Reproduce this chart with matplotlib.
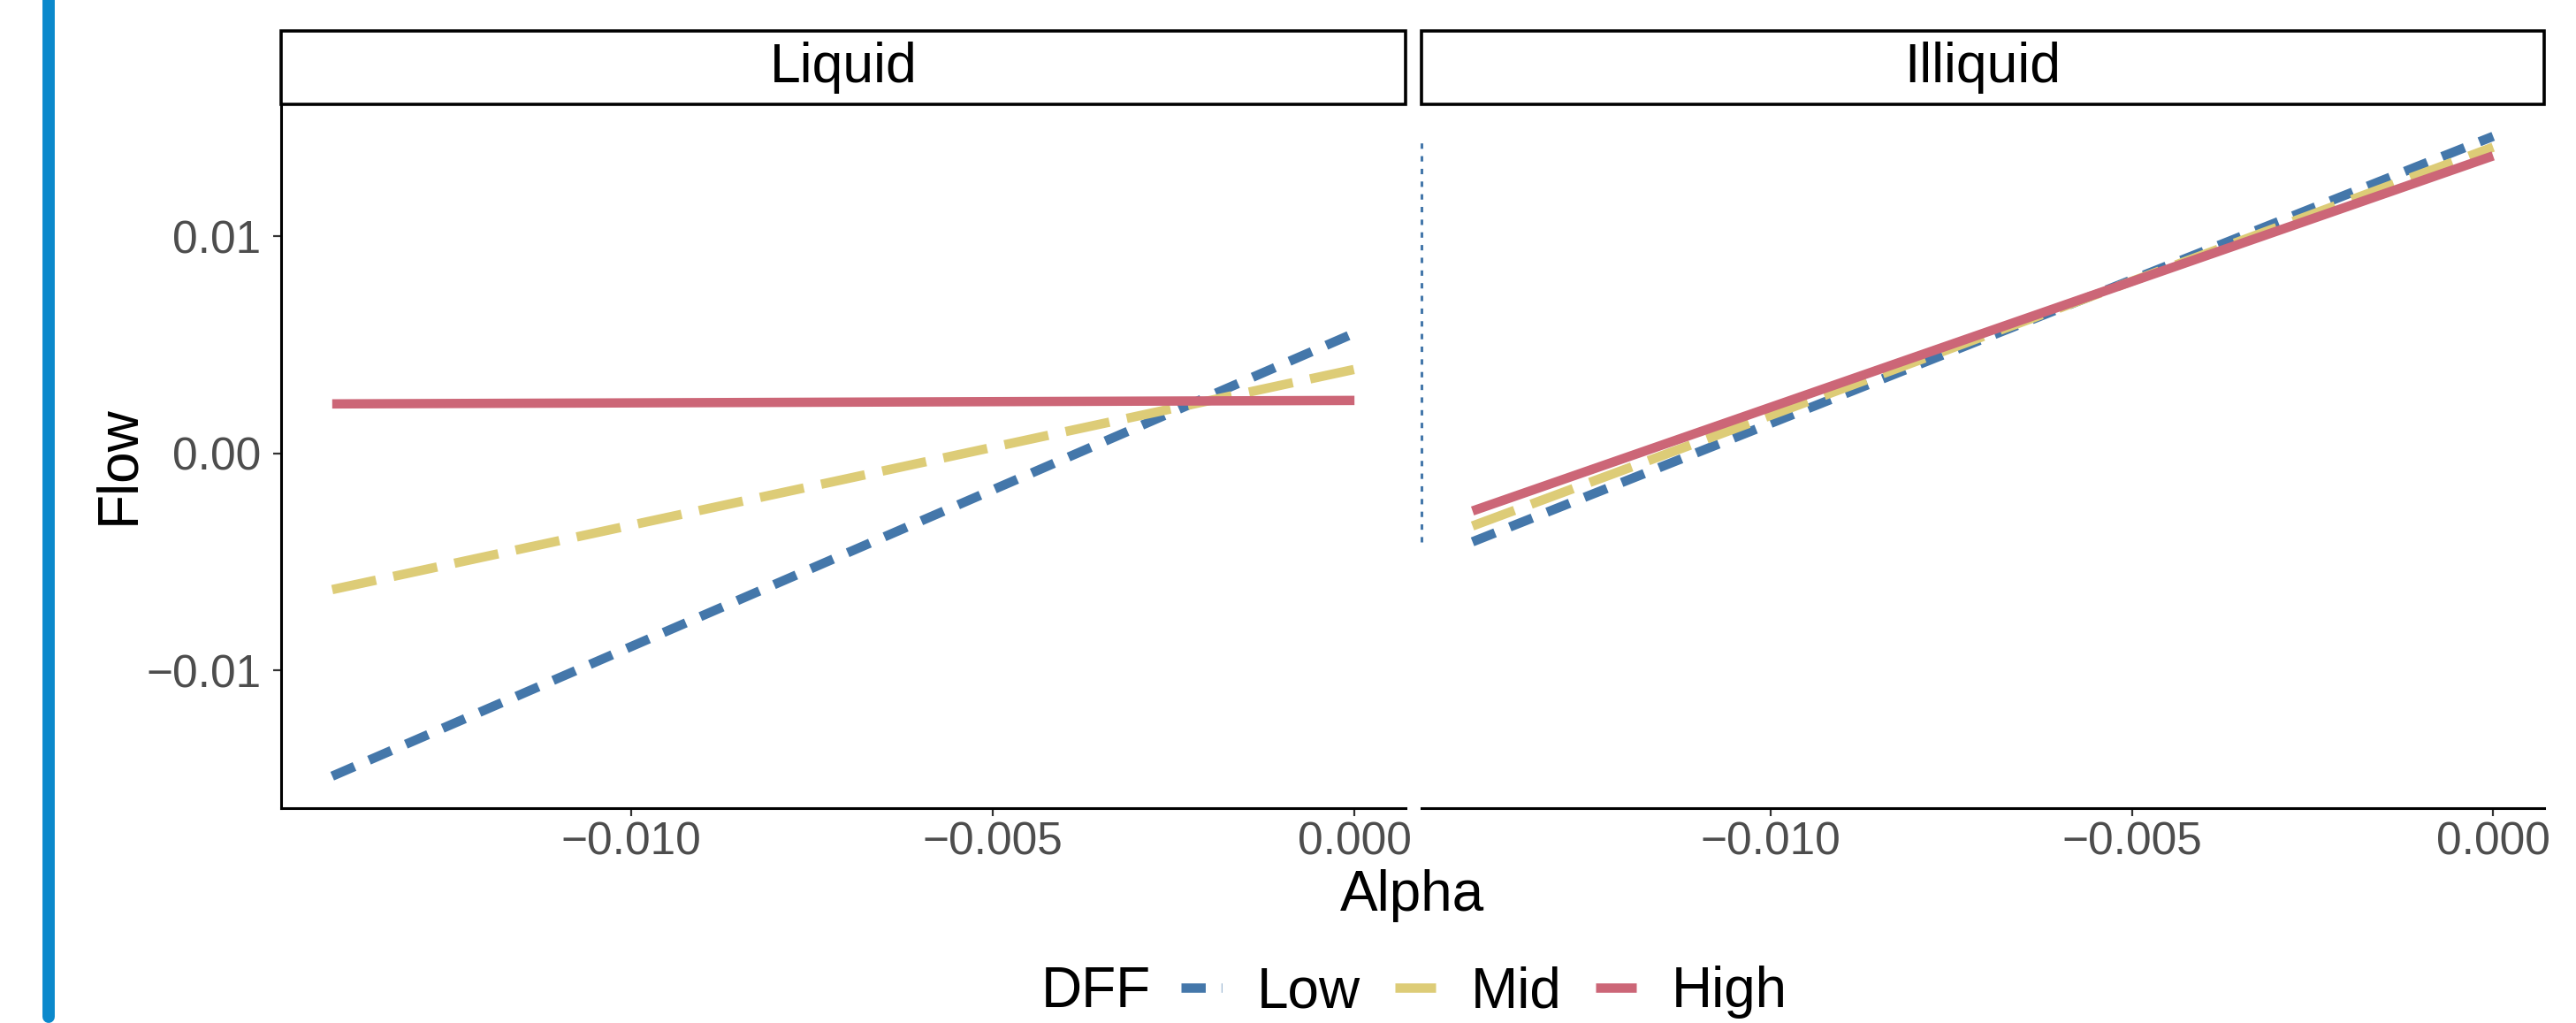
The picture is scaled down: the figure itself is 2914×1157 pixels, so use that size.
import numpy as np
import matplotlib
matplotlib.use('Agg')
import matplotlib.pyplot as plt
from matplotlib.lines import Line2D
from matplotlib.patches import Rectangle

plt.rcParams['font.family'] = ['Liberation Sans', 'DejaVu Sans']

# data (fitted lines, end points)
alpha = [-0.01413, 0.0]
panels = ['Liquid', 'Illiquid']
groups = ['Low', 'Mid', 'High']
liquid_flow = {'Low': [-0.01486, 0.00554],
               'Mid': [-0.00627, 0.00387],
               'High': [0.00228, 0.00244]}
illiquid_flow = {'Low': [-0.00407, 0.0146],
                 'Mid': [-0.00334, 0.0141],
                 'High': [-0.00265, 0.0137]}
x_ticks = [-0.010, -0.005, 0.000]
x_labels = ['\u22120.010', '\u22120.005', '0.000']
y_ticks = [-0.01, 0.00, 0.01]
y_labels = ['\u22120.01', '0.00', '0.01']

colors = {'Low': '#4477AA', 'Mid': '#DDCC77', 'High': '#CC6677'}
dashes = {'Low': (2.6, 1.7), 'Mid': (4.8, 1.9), 'High': None}
LW = 3.8

W, H, DPI = 2914, 1157, 200
fig = plt.figure(figsize=(W / DPI, H / DPI), dpi=DPI)

# ggplot style 5% expansion
allx = np.array(alpha)
ally = np.concatenate([np.array(v) for d in (liquid_flow, illiquid_flow) for v in d.values()])
xr = allx.max() - allx.min()
yr = ally.max() - ally.min()
xlim = (allx.min() - 0.05 * xr, allx.max() + 0.05 * xr)
ylim = (ally.min() - 0.05 * yr, ally.max() + 0.05 * yr)

panel_left = [318 / W, 1608 / W]
panel_w = [1272 / W, 1270 / W]
bottom = (H - 914) / H
height = (914 - 118) / H
strip_h = 83 / H

axes = []
for i, (name, data) in enumerate(zip(panels, [liquid_flow, illiquid_flow])):
    ax = fig.add_axes([panel_left[i], bottom, panel_w[i], height])
    for g in groups:
        line, = ax.plot(alpha, data[g], color=colors[g], lw=LW, solid_capstyle='butt')
        if dashes[g] is not None:
            line.set_dashes(dashes[g])
            line.set_dash_capstyle('butt')
    ax.set_xlim(xlim)
    ax.set_ylim(ylim)
    ax.set_xticks(x_ticks)
    ax.set_xticklabels(x_labels)
    ax.set_yticks(y_ticks)
    ax.set_yticklabels(y_labels)
    for s in ['top', 'right']:
        ax.spines[s].set_visible(False)
    ax.spines['bottom'].set_linewidth(1.1)
    ax.spines['left'].set_linewidth(1.1)
    ax.tick_params(axis='both', length=3.2, width=0.8, color='#333333',
                   labelsize=18.5, labelcolor='#4d4d4d')
    ax.tick_params(axis='x', pad=2)
    ax.tick_params(axis='y', pad=5)
    if i == 1:
        ax.spines['left'].set_visible(False)
        ax.tick_params(axis='y', left=False, labelleft=False)
    # strip
    sax = fig.add_axes([panel_left[i], bottom + height, panel_w[i], strip_h])
    sax.set_axis_off()
    sax.add_patch(Rectangle((0, 0), 1, 1, transform=sax.transAxes, facecolor='white',
                            edgecolor='black', lw=1.3, clip_on=False))
    sax.text(0.5, 0.5, name, ha='center', va='center', fontsize=22.5, color='black',
             transform=sax.transAxes)
    axes.append(ax)

# thin dotted blue segment at the left edge of the Illiquid panel
low_r = illiquid_flow['Low']
vl = axes[1].vlines(xlim[0], min(low_r), max(low_r), color=colors['Low'], lw=1.1, clip_on=False)
vl.set_linestyle((0, (2, 2.7)))

fig.text(134 / W, 1 - 526 / H, 'Flow', rotation=90, ha='center', va='center', fontsize=23)
fig.text(1598 / W, 1 - 1013 / H, 'Alpha', ha='center', va='center', fontsize=23)

# legend
handles = []
for g in groups:
    h = Line2D([0], [0], color=colors[g], lw=LW, solid_capstyle='butt')
    if dashes[g] is not None:
        h.set_dashes(dashes[g])
        h.set_dash_capstyle('butt')
    handles.append(h)
fig.text(1240 / W, 1 - 1122 / H, 'DFF', ha='center', va='center', fontsize=23)
fig.legend(handles, groups, loc='center', bbox_to_anchor=(1679 / W, 1 - 1122 / H),
           ncol=3, frameon=False, fontsize=23, handlelength=0.72, handletextpad=0.63,
           columnspacing=0.6, borderpad=0, borderaxespad=0)

# blue accent bar on the left
fig.add_artist(Line2D([55 / W, 55 / W], [1.05, 7 / H], transform=fig.transFigure,
                      color='#0b89cc', lw=5.0, solid_capstyle='round'))

fig.savefig('out.png', dpi=DPI, facecolor='white')
